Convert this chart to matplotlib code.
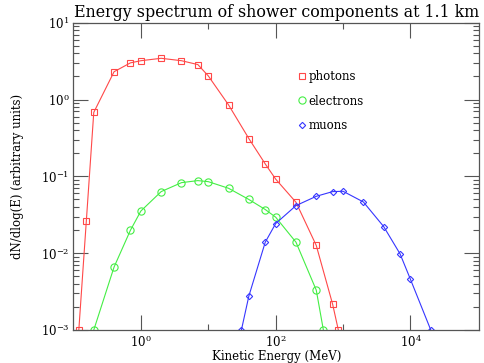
import numpy as np
import matplotlib
matplotlib.use('Agg')
import matplotlib.pyplot as plt
from matplotlib.ticker import LogLocator, FixedLocator, NullFormatter

plt.rcParams['font.family'] = 'DejaVu Serif'
plt.rcParams['mathtext.fontset'] = 'dejavuserif'

# photons
photon_e = [0.12, 0.155, 0.2, 0.4, 0.7, 1, 2, 4, 7, 10, 20, 40, 70, 100, 200, 400, 700, 850]
photon_n = [1e-3, 0.026, 0.68, 2.3, 3.0, 3.2, 3.44, 3.2, 2.85, 2.03, 0.85, 0.31, 0.145,
            0.092, 0.046, 0.0126, 0.00216, 1e-3]

# electrons
electron_e = [0.2, 0.4, 0.7, 1, 2, 4, 7, 10, 20, 40, 70, 100, 200, 400, 510]
electron_n = [1e-3, 0.0066, 0.0199, 0.0354, 0.0633, 0.0828, 0.088, 0.0853, 0.0699,
              0.050, 0.037, 0.0294, 0.0139, 0.0033, 1e-3]

# muons
muon_e = [31, 40, 70, 100, 200, 400, 700, 1000, 2000, 4000, 7000, 10000, 20000]
muon_n = [1e-3, 0.00277, 0.0139, 0.0243, 0.0416, 0.055, 0.0633, 0.0639, 0.0464,
          0.0222, 0.0098, 0.00455, 1e-3]

red = '#ff4848'
green = '#44ee44'
blue = '#3636ff'

fig = plt.figure(figsize=(4.85, 3.63), dpi=100)
ax = fig.add_axes([0.1515, 0.0909, 0.8368, 0.8466])

ax.plot(photon_e, photon_n, color=red, lw=0.8, marker='s', ms=5,
        mfc='none', mec=red, mew=0.8)
ax.plot(electron_e, electron_n, color=green, lw=0.8, marker='o', ms=5.2,
        mfc='none', mec=green, mew=0.8)
ax.plot(muon_e, muon_n, color=blue, lw=0.8, marker='D', ms=3.2,
        mfc='none', mec=blue, mew=0.8)

ax.set_xscale('log')
ax.set_yscale('log')
ax.set_xlim(0.1, 1.05e5)
ax.set_ylim(1e-3, 10)

ax.xaxis.set_major_locator(FixedLocator([1, 100, 1e4]))
ax.xaxis.set_minor_locator(FixedLocator([10, 1000]))
ax.xaxis.set_minor_formatter(NullFormatter())
ax.yaxis.set_major_locator(LogLocator(base=10, numticks=10))
ax.yaxis.set_minor_locator(LogLocator(base=10, subs=np.arange(2, 10), numticks=20))
ax.yaxis.set_minor_formatter(NullFormatter())

ax.tick_params(which='major', direction='in', length=11, width=0.8, color='#555555',
               top=True, right=True, labelsize=8.5, pad=3)
ax.tick_params(which='minor', direction='in', length=4, width=0.8, color='#555555',
               top=True, right=True)
for s in ax.spines.values():
    s.set_color('#555555')
    s.set_linewidth(0.9)

ax.set_xlabel('Kinetic Energy (MeV)', fontsize=8.5, labelpad=0)
ax.set_ylabel('dN/dlog(E) (arbitrary units)', fontsize=8.5, labelpad=12)
ax.set_title('Energy spectrum of shower components at 1.1 km', fontsize=11.4, pad=4)

# legend
handles = [
    plt.Line2D([], [], ls='none', marker='s', ms=5, mfc='none', mec=red, mew=0.8),
    plt.Line2D([], [], ls='none', marker='o', ms=5.2, mfc='none', mec=green, mew=0.8),
    plt.Line2D([], [], ls='none', marker='D', ms=3.2, mfc='none', mec=blue, mew=0.8)]
ax.legend(handles=handles, labels=['photons', 'electrons', 'muons'],
          loc='upper left', bbox_to_anchor=(0.545, 0.862), frameon=False, fontsize=8.5,
          handlelength=0.5, handletextpad=0.3, labelspacing=1.0, borderaxespad=0)

fig.savefig('out.png', dpi=100)
